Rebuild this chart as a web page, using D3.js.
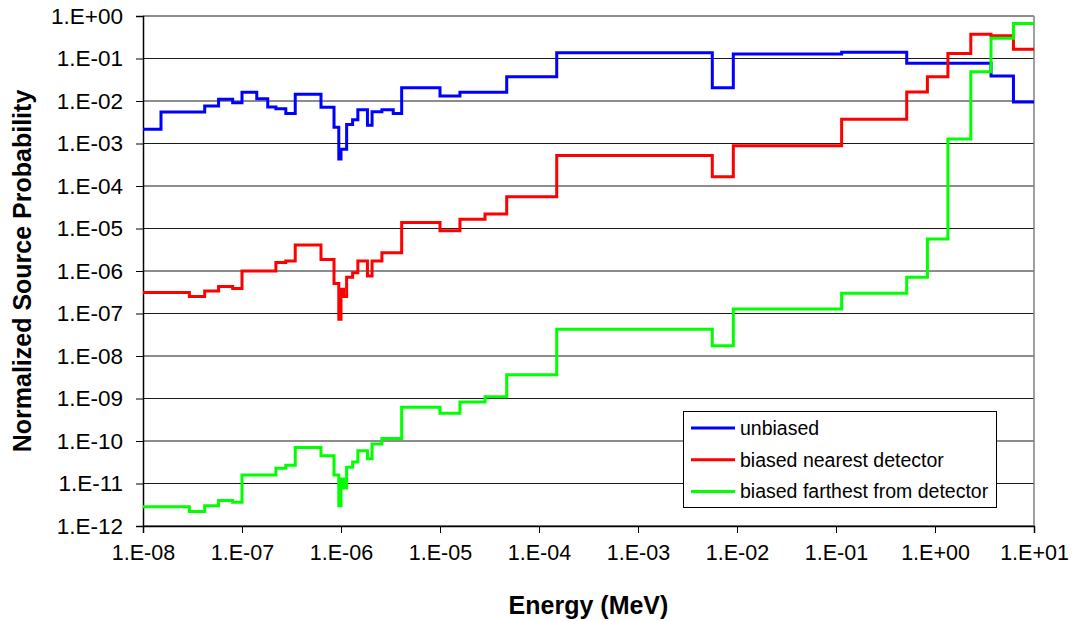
<!DOCTYPE html>
<html>
<head>
<meta charset="utf-8">
<script src="https://cdn.jsdelivr.net/npm/d3@7"></script>
<style>
  html, body { margin: 0; padding: 0; background: #fff; }
  svg { display: block; font-family: "Liberation Sans", Arial, sans-serif; }
</style>
</head>
<body>
<svg id="chart" width="1076" height="621"></svg>
<script>
// Group boundaries in energy (MeV); each series gives one value per group.
const energyEdges = [1e-8, 1.52e-8, 2.94e-8, 4.2e-8, 5.8e-8, 8.05e-8, 1e-7, 1.41e-7, 1.82e-7, 2.2e-7,
  2.77e-7, 3.45e-7, 6.28e-7, 8.5e-7, 9.5e-7, 1.0e-6, 1.06e-6, 1.14e-6, 1.31e-6, 1.48e-6,
  1.85e-6, 2.06e-6, 2.59e-6, 3.37e-6, 4.1e-6, 1e-5, 1.59e-5, 2.85e-5, 4.72e-5, 1.51e-4,
  5.63e-3, 9.18e-3, 0.114, 0.518, 0.838, 1.35, 2.30, 3.68, 6.2, 10];

const unbiased = [2.15e-3, 5.5e-3, 5.5e-3, 7.6e-3, 1.1e-2, 9.1e-3, 1.6e-2, 1.13e-2, 7.2e-3, 6.6e-3,
  5.1e-3, 1.44e-2, 7.1e-3, 2.4e-3, 4.3e-4, 7.3e-4, 7.3e-4, 2.8e-3, 3.6e-3, 6.2e-3,
  2.7e-3, 5.6e-3, 6.2e-3, 5.1e-3, 2.06e-2, 1.31e-2, 1.6e-2, 1.6e-2, 3.7e-2, 0.137,
  2.06e-2, 0.128, 0.14, 0.077, 0.077, 0.077, 0.077, 0.0388, 9.5e-3];

const biasedNearest = [3.1e-7, 3.1e-7, 2.5e-7, 3.4e-7, 4.3e-7, 3.9e-7, 1.0e-6, 1.0e-6, 1.0e-6, 1.58e-6,
  1.72e-6, 4.1e-6, 1.87e-6, 5.1e-7, 7.3e-8, 3.7e-7, 2.5e-7, 7.1e-7, 9.1e-7, 1.72e-6,
  7.6e-7, 1.72e-6, 2.7e-6, 2.7e-6, 1.38e-5, 8.9e-6, 1.65e-5, 2.2e-5, 5.6e-5, 5.2e-4,
  1.65e-4, 8.9e-4, 3.7e-3, 1.63e-2, 3.74e-2, 0.132, 0.37, 0.345, 0.164];

const biasedFarthest = [2.85e-12, 2.85e-12, 2.2e-12, 3.0e-12, 4.0e-12, 3.6e-12, 1.58e-11, 1.58e-11, 1.58e-11, 2.3e-11,
  2.7e-11, 7.0e-11, 4.5e-11, 1.58e-11, 3.0e-12, 1.28e-11, 7.8e-12, 2.4e-11, 3.2e-11, 5.9e-11,
  3.8e-11, 8.5e-11, 1.15e-10, 1.15e-10, 6.2e-10, 4.5e-10, 8.3e-10, 1.1e-9, 3.6e-9, 4.26e-8,
  1.75e-8, 1.28e-7, 3.0e-7, 7.1e-7, 5.7e-6, 1.28e-3, 4.9e-2, 0.30, 0.67];

const seriesNames = ["unbiased", "biased nearest detector", "biased farthest from detector"];
const seriesColors = ["#0000ff", "#ff0000", "#00ff00"];

const xTickValues = [1e-8, 1e-7, 1e-6, 1e-5, 1e-4, 1e-3, 1e-2, 1e-1, 1e0, 1e1];
const xTickLabels = ["1.E-08", "1.E-07", "1.E-06", "1.E-05", "1.E-04", "1.E-03", "1.E-02", "1.E-01", "1.E+00", "1.E+01"];
const yTickValues = [1e0, 1e-1, 1e-2, 1e-3, 1e-4, 1e-5, 1e-6, 1e-7, 1e-8, 1e-9, 1e-10, 1e-11, 1e-12];
const yTickLabels = ["1.E+00", "1.E-01", "1.E-02", "1.E-03", "1.E-04", "1.E-05", "1.E-06", "1.E-07", "1.E-08", "1.E-09", "1.E-10", "1.E-11", "1.E-12"];

const svg = d3.select("#chart");
const plot = { left: 143, right: 1034, top: 16, bottom: 526 };

const x = d3.scaleLog().domain([1e-8, 10]).range([plot.left, plot.right]);
const y = d3.scaleLog().domain([1e-12, 1]).range([plot.bottom, plot.top]);

// horizontal gridlines, one per decade
svg.append("g")
  .selectAll("line")
  .data(yTickValues)
  .join("line")
  .attr("x1", plot.left).attr("x2", plot.right)
  .attr("y1", d => y(d)).attr("y2", d => y(d))
  .attr("stroke", "#1a1a1a").attr("stroke-width", 1);

// right border of the plot
svg.append("line")
  .attr("x1", plot.right).attr("x2", plot.right)
  .attr("y1", plot.top).attr("y2", plot.bottom)
  .attr("stroke", "#808080").attr("stroke-width", 1.5);

// y axis
const yAxis = d3.axisLeft(y)
  .tickValues(yTickValues)
  .tickFormat((d, i) => yTickLabels[i])
  .tickSize(7).tickPadding(13);
const gy = svg.append("g").attr("transform", `translate(${plot.left},0)`).call(yAxis);
gy.select(".domain").attr("stroke", "#000").attr("stroke-width", 1.5);
gy.selectAll(".tick line").attr("stroke", "#000");
gy.selectAll(".tick text").attr("font-size", 22.5).attr("fill", "#000")
  .attr("font-family", "'Liberation Sans', Arial, sans-serif");

// x axis
const xAxis = d3.axisBottom(x)
  .tickValues(xTickValues)
  .tickFormat((d, i) => xTickLabels[i])
  .tickSize(7).tickPadding(12);
const gx = svg.append("g").attr("transform", `translate(0,${plot.bottom})`).call(xAxis);
gx.select(".domain").attr("stroke", "#000").attr("stroke-width", 1.5);
gx.selectAll(".tick line").attr("stroke", "#000");
gx.selectAll(".tick text").attr("font-size", 21.5).attr("fill", "#000")
  .attr("font-family", "'Liberation Sans', Arial, sans-serif");

// step curves
const allSeries = [unbiased, biasedNearest, biasedFarthest];
const line = d3.line()
  .x(d => x(d[0]))
  .y(d => y(d[1]))
  .curve(d3.curveStepAfter);

allSeries.forEach((vals, s) => {
  const pts = vals.map((v, i) => [energyEdges[i], v]);
  pts.push([energyEdges[energyEdges.length - 1], vals[vals.length - 1]]);
  svg.append("path")
    .datum(pts)
    .attr("fill", "none")
    .attr("stroke", seriesColors[s])
    .attr("stroke-width", 3)
    .attr("stroke-linejoin", "miter")
    .attr("d", line);
});

// axis titles
svg.append("text")
  .attr("x", (plot.left + plot.right) / 2)
  .attr("y", 614)
  .attr("text-anchor", "middle")
  .attr("font-size", 25).attr("font-weight", "bold")
  .text("Energy (MeV)");

svg.append("text")
  .attr("transform", `translate(31,${(plot.top + plot.bottom) / 2}) rotate(-90)`)
  .attr("text-anchor", "middle")
  .attr("font-size", 25).attr("font-weight", "bold")
  .text("Normalized Source Probability");

// legend
const legend = svg.append("g");
legend.append("rect")
  .attr("x", 683.5).attr("y", 411.5).attr("width", 313).attr("height", 96)
  .attr("fill", "#fff").attr("stroke", "#000").attr("stroke-width", 1);
seriesNames.forEach((name, i) => {
  const cy = 428 + i * 31.8;
  legend.append("line")
    .attr("x1", 691).attr("x2", 735).attr("y1", cy).attr("y2", cy)
    .attr("stroke", seriesColors[i]).attr("stroke-width", 3);
  legend.append("text")
    .attr("x", 740).attr("y", cy)
    .attr("dy", "0.35em")
    .attr("font-size", 19.5)
    .text(name);
});
</script>
</body>
</html>
